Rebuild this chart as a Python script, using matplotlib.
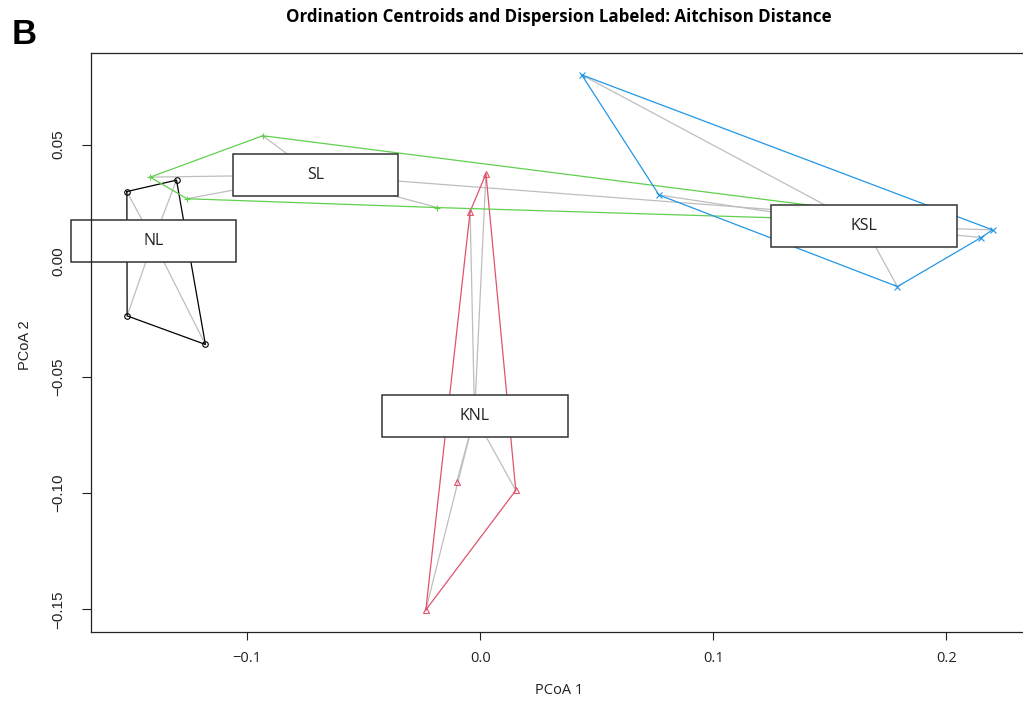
import numpy as np
import matplotlib
matplotlib.use("Agg")
import matplotlib.pyplot as plt
import matplotlib.transforms as mtransforms
from matplotlib.patches import Rectangle

# groups, in the order of the R palette / pch used in the original
groups = ["NL", "KNL", "SL", "KSL"]
colors = ["#000000", "#DF536B", "#61D04F", "#2297E6"]
markers = ["o", "^", "+", "x"]

# PCoA scores per group
nl_x = [-0.1516, -0.1303, -0.1179, -0.1515]
nl_y = [0.0298, 0.0347, -0.0360, -0.0237]
knl_x = [0.0025, 0.0153, -0.0233, -0.0043, -0.0100]
knl_y = [0.0374, -0.0988, -0.1502, 0.0212, -0.0951]
sl_x = [-0.1416, -0.0933, 0.2021, -0.0183, -0.1258]
sl_y = [0.0360, 0.0538, 0.0162, 0.0229, 0.0267]
ksl_x = [0.0436, 0.0768, 0.1791, 0.2150, 0.2199]
ksl_y = [0.0800, 0.0283, -0.0111, 0.0100, 0.0133]

# group centroids (betadisper)
centroid_x = [-0.1403, -0.0024, -0.0708, 0.1648]
centroid_y = [0.0086, -0.0667, 0.0370, 0.0150]

x_ticks = [-0.1, 0.0, 0.1, 0.2]
x_ticklabels = ["\u22120.1", "0.0", "0.1", "0.2"]
y_ticks = [-0.15, -0.10, -0.05, 0.00, 0.05]
y_ticklabels = ["\u22120.15", "\u22120.10", "\u22120.05", "0.00", "0.05"]

title = "Ordination Centroids and Dispersion Labeled: Aitchison Distance"
panel = "B"
xlabel = "PCoA 1"
ylabel = "PCoA 2"

xs = [nl_x, knl_x, sl_x, ksl_x]
ys = [nl_y, knl_y, sl_y, ksl_y]


def convex_hull(px, py):
    # monotone chain, returns closed polygon
    pts = sorted(zip(px, py))

    def cross(o, a, b):
        return (a[0] - o[0]) * (b[1] - o[1]) - (a[1] - o[1]) * (b[0] - o[0])

    lower, upper = [], []
    for p in pts:
        while len(lower) >= 2 and cross(lower[-2], lower[-1], p) <= 0:
            lower.pop()
        lower.append(p)
    for p in reversed(pts):
        while len(upper) >= 2 and cross(upper[-2], upper[-1], p) <= 0:
            upper.pop()
        upper.append(p)
    hull = lower[:-1] + upper[:-1]
    hull.append(hull[0])
    return np.array(hull)


W, H = 1023, 704
fig = plt.figure(figsize=(W / 100, H / 100), dpi=100)
ax = fig.add_axes([91 / W, 72 / H, 936 / W, 579 / H])
ax.set_xlim(-0.1670, 0.2347)
ax.set_ylim(-0.1597, 0.0894)

# spider lines from centroid to each sample
for gx, gy, cx, cy in zip(xs, ys, centroid_x, centroid_y):
    for x, y in zip(gx, gy):
        ax.plot([cx, x], [cy, y], color="#BEBEBE", lw=0.9, zorder=1)

# hulls + points
for gx, gy, c, m in zip(xs, ys, colors, markers):
    hull = convex_hull(gx, gy)
    ax.plot(hull[:, 0], hull[:, 1], color=c, lw=0.9, zorder=1.3)
    if m in ("o", "^"):
        ax.plot(gx, gy, ls="none", marker=m, ms=4.0, mfc="none", mec=c, mew=0.8, zorder=1.5)
    else:
        ax.plot(gx, gy, ls="none", marker=m, ms=5, color=c, mew=0.8, zorder=1.5)

# label boxes at the centroids (ordilabel)
for g, cx, cy in zip(groups, centroid_x, centroid_y):
    w = (123 + 21 * len(g)) / 100
    h = 42 / 100
    trans = fig.dpi_scale_trans + mtransforms.ScaledTranslation(cx, cy, ax.transData)
    ax.add_patch(Rectangle((-w / 2, -h / 2), w, h, transform=trans, facecolor="white",
                           edgecolor="#333333", lw=1.1, clip_on=False, zorder=2.1))
    ax.text(cx, cy, g, ha="center", va="center", fontsize=11.5, family=["Open Sans", "DejaVu Sans"],
            color="#222222", zorder=2.2, clip_on=False)

for s in ax.spines.values():
    s.set_linewidth(0.9)
    s.set_color("#222222")

ax.set_xticks(x_ticks)
ax.set_xticklabels(x_ticklabels, family=["Open Sans", "DejaVu Sans"], fontsize=10.5, color="#222222")
ax.set_yticks(y_ticks)
ax.set_yticklabels(y_ticklabels, family=["Liberation Sans", "DejaVu Sans"], fontsize=11,
                   rotation=90, va="center", color="#222222")
ax.tick_params(axis="x", direction="out", length=5.5, width=0.8, pad=8, color="#222222")
ax.tick_params(axis="y", direction="out", length=6.5, width=0.8, pad=12, color="#222222")

fig.text(559 / W, 1 - 690 / H, xlabel, ha="center", va="center", fontsize=10.5,
         family=["Open Sans", "DejaVu Sans"], color="#222222")
fig.text(25 / W, 1 - 345 / H, ylabel, ha="center", va="center", rotation=90, fontsize=10.5,
         family=["Liberation Sans", "DejaVu Sans"], color="#222222")
fig.text(559 / W, 1 - 17 / H, title, ha="center", va="center", fontsize=12.2, fontweight="bold",
         family=["Open Sans", "DejaVu Sans"])
fig.text(12 / W, 1 - 44 / H, panel, ha="left", va="baseline", fontsize=25, fontweight="bold",
         family=["Liberation Sans", "DejaVu Sans"])

fig.savefig("out.png", dpi=100)
